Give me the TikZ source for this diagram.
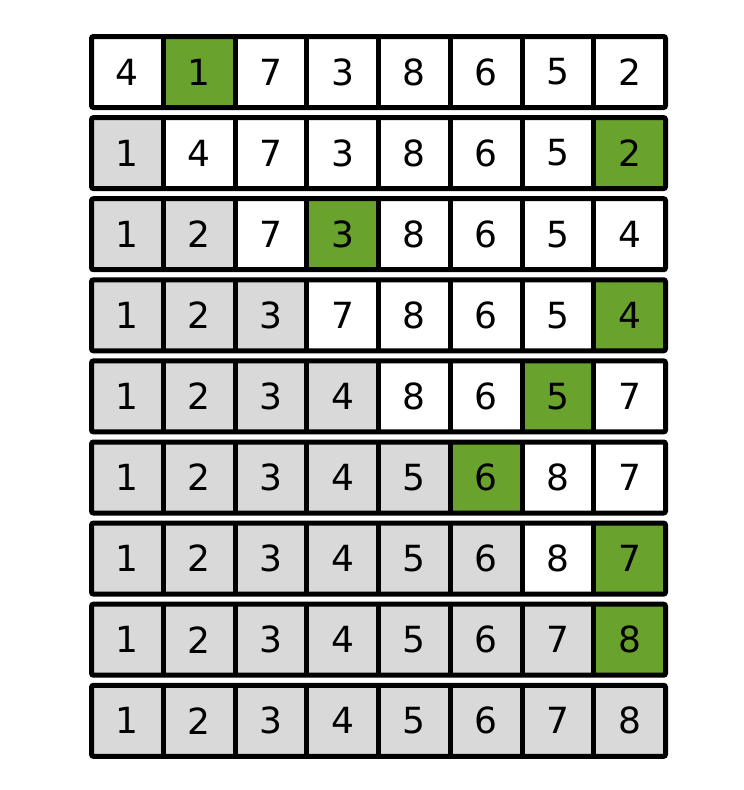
\documentclass[tikz,border=0pt]{standalone}
\usepackage{fontspec}
\setmainfont{DejaVu Sans}
\usetikzlibrary{positioning}
\definecolor{pickgreen}{RGB}{106,162,46}
\definecolor{donegray}{RGB}{217,217,217}

\begin{document}
\begin{tikzpicture}[x=1pt,y=-1pt,
    cell/.style={minimum width=71.75pt,minimum height=71pt,inner sep=0pt,outer sep=0pt,
      font=\fontsize{36}{36}\selectfont},
    rowframe/.style={line width=5pt,rounded corners=2pt},
    divider/.style={line width=5pt}]
  \useasboundingbox (0,0) rectangle (744,790);
  % each row: values / cells already sorted / cell picked in green
  \foreach \vals/\nsorted/\pick [count=\r from 0] in {
      {4,1,7,3,8,6,5,2}/0/2,
      {1,4,7,3,8,6,5,2}/1/8,
      {1,2,7,3,8,6,5,4}/2/4,
      {1,2,3,7,8,6,5,4}/3/8,
      {1,2,3,4,8,6,5,7}/4/7,
      {1,2,3,4,5,6,8,7}/5/6,
      {1,2,3,4,5,6,8,7}/6/8,
      {1,2,3,4,5,6,7,8}/7/8,
      {1,2,3,4,5,6,7,8}/8/0}{
    \foreach \v [count=\c] in \vals{
      \ifnum\c=\pick \def\fc{pickgreen}\else
        \ifnum\c>\nsorted \def\fc{white}\else\def\fc{donegray}\fi\fi
      \node[cell,fill=\fc] (c-\r-\c) at ({127.4+71.75*(\c-1)},{72+81.1*\r}) {\v};
    }
    \foreach \c in {1,...,7}{
      \draw[divider] (c-\r-\c.north east) -- (c-\r-\c.south east);
    }
    \draw[rowframe] (c-\r-1.north west) rectangle (c-\r-8.south east);
  }
\end{tikzpicture}
\end{document}
